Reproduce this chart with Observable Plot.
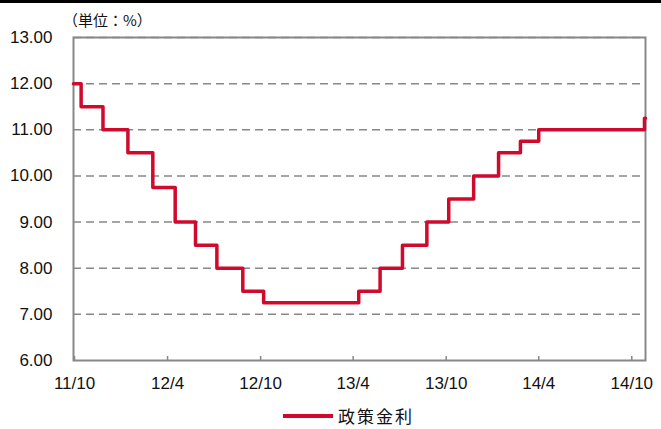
<!DOCTYPE html>
<html><head><meta charset="utf-8">
<script src="https://cdn.jsdelivr.net/npm/d3@7"></script>
<script src="https://cdn.jsdelivr.net/npm/@observablehq/plot@0.6"></script>
<style>
body{margin:0;background:#fff;}
#wrap{position:relative;width:661px;height:429px;overflow:hidden;background:#fff;}
#topbar{position:absolute;left:0;top:0;width:661px;height:3px;background:#000;}
#unit{position:absolute;left:63px;top:11px;font-family:"Noto Sans CJK JP";font-size:15px;line-height:17px;color:#111;}
#legend{position:absolute;left:283px;top:407px;display:flex;align-items:center;font-family:"Noto Sans CJK JP";font-size:17px;line-height:18px;letter-spacing:2px;color:#111;}
#legend .sw{display:inline-block;width:50px;height:4px;background:#cf0a2c;margin-right:5px;}
</style></head><body>
<div id="wrap"><div id="chart"></div><div id="topbar"></div><div id="unit">（単位：%）</div><div id="legend"><span class="sw"></span><span>政策金利</span></div></div>
<script>
const stepDates = ["2011-09-29","2011-10-14","2011-11-26","2012-01-14","2012-03-03","2012-04-16","2012-05-26","2012-07-07","2012-08-27","2012-10-07","2013-04-12","2013-05-24","2013-07-07","2013-08-24","2013-10-06","2013-11-24","2014-01-12","2014-02-24","2014-04-01","2014-10-26","2014-10-28"];
const policyRate = [12.00,11.50,11.00,10.50,9.75,9.00,8.50,8.00,7.50,7.25,7.50,8.00,8.50,9.00,9.50,10.00,10.50,10.75,11.00,11.25,11.25];
const yTicks = [6,7,8,9,10,11,12,13];
const xTickDates = ["2011-10-01","2012-04-01","2012-10-01","2013-04-01","2013-10-01","2014-04-01","2014-10-01"];
const xTickLabels = ["11/10","12/4","12/10","13/4","13/10","14/4","14/10"];
const xDomain = ["2011-09-29","2014-10-28"];

const data = stepDates.map((d,i)=>({date:new Date(d), rate:policyRate[i]}));
const ticks = xTickDates.map(d=>new Date(d));
const labelOf = new Map(ticks.map((t,i)=>[+t, xTickLabels[i]]));

const chart = Plot.plot({
  width:661, height:429, marginLeft:73, marginRight:16, marginTop:37, marginBottom:69,
  style:{fontFamily:"Liberation Sans", fontSize:"17px", color:"#111", background:"#fff", overflow:"visible"},
  x:{type:"utc", domain:xDomain.map(d=>new Date(d))},
  y:{domain:[6,13]},
  marks:[
    Plot.ruleY(yTicks.filter(v=>v>6), {stroke:"#888", strokeWidth:1.5, strokeDasharray:"8,5"}),
    Plot.frame({stroke:"#888", strokeWidth:2}),
    Plot.axisY({ticks:yTicks, tickFormat:d3.format(".2f"), tickSize:0, tickPadding:21, label:null}),
    Plot.axisX({ticks, tickFormat:d=>labelOf.get(+d), tickSize:0, tickPadding:16, label:null}),
    Plot.axisX({ticks, tickFormat:()=>"", tickSize:-4, stroke:"#888", strokeWidth:1.5, label:null}),
    Plot.line(data,{x:"date", y:"rate", curve:"step-after", stroke:"#cf0a2c", strokeWidth:3.5})
  ]
});
document.getElementById("chart").appendChild(chart);
</script>
</body></html>
